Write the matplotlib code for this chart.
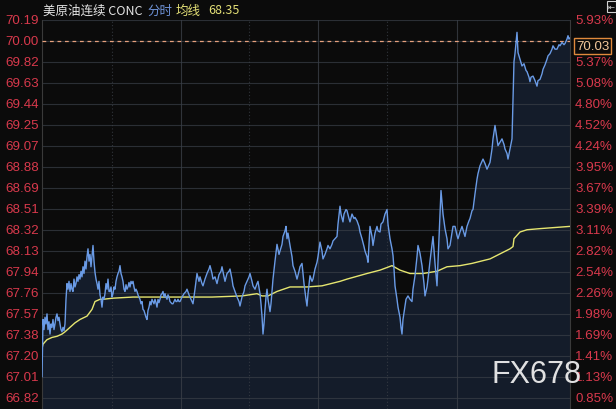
import numpy as np
import matplotlib.pyplot as plt
from matplotlib.patches import Rectangle

# minute index (0 = session start) and last price
minutes = [0, 1, 2, 3, 4, 5, 6, 7, 8, 9, 10, 11, 12, 13, 14, 15, 16, 17, 18, 19,
           20, 21, 22, 23, 24, 25, 26, 27, 28, 29, 30, 31, 32, 33, 34, 35, 36, 37, 38, 39,
           40, 41, 42, 43, 44, 45, 46, 47, 48, 49, 50, 51, 52, 53, 54, 55, 56, 57, 58, 59,
           60, 61, 62, 63, 64, 65, 66, 67, 68, 69, 70, 71, 72, 73, 74, 75, 76, 77, 78, 79,
           80, 81, 82, 83, 84, 85, 86, 87, 88, 89, 90, 91, 92, 93, 94, 95, 96, 97, 98, 99,
           100, 101, 102, 103, 104, 105, 106, 107, 108, 109, 110, 111, 112, 113, 114, 115,
           116, 117, 118, 119, 120, 121, 122, 123, 124, 125, 126, 127, 128, 129, 130, 131,
           132, 133, 134, 135, 136, 137, 138,
           140, 142, 144, 145, 147, 149, 151, 153, 155, 157, 158, 160, 161, 163, 165, 167,
           168, 170, 171, 173, 175, 177, 179, 180, 182, 183, 185, 187, 188, 190, 191, 193,
           195, 197, 198, 200, 202, 203, 205, 207, 208, 210, 211, 213, 215, 216, 218, 219,
           220, 221, 222, 223, 224, 225, 226, 228, 229, 230, 231, 233, 235, 237, 238, 240,
           241, 243, 244, 245, 246, 248, 250, 251, 253, 255, 257, 258, 260, 262, 264, 265,
           266, 268, 270, 271, 273, 275, 276, 278, 280, 281, 283, 285, 286, 288, 290, 291,
           293, 295, 296, 298, 299, 301, 302, 304, 305, 307, 308, 310, 312, 313, 315, 317,
           318, 320, 322, 323, 325, 326, 327, 328, 330, 331, 333, 335, 336, 338, 339, 341,
           343, 345, 346, 348, 350, 351, 352, 353, 355, 356, 358, 359, 360, 361, 363, 364,
           366, 368, 370, 371, 373, 375, 376, 378, 380, 382, 383, 385, 386, 388, 390, 391,
           393, 395, 397, 399, 401, 403, 405, 406, 408, 410, 411, 413, 415, 416, 418, 420,
           422, 423, 425, 427, 428, 430, 431, 433, 435, 436, 438, 440, 441, 443, 445, 447,
           448, 450, 451, 452, 453, 455, 456, 458, 460, 462, 463, 465, 466, 468, 469, 470,
           471, 472, 473, 474, 475, 476, 478, 480, 482, 484, 485, 487, 488, 489, 491, 493,
           495, 496, 498, 500, 501, 503, 505, 506, 508, 510, 511, 513, 515, 517, 518, 520,
           522, 523, 525, 526, 527, 528]
price = [67.01, 67.52, 67.43, 67.54, 67.48, 67.57, 67.43, 67.50, 67.39, 67.48, 67.45, 67.52,
         67.43, 67.48, 67.54, 67.57, 67.51, 67.54, 67.48, 67.43, 67.41, 67.45, 67.42, 67.48,
         67.70, 67.84, 67.79, 67.86, 67.77, 67.84, 67.79, 67.77, 67.88, 67.81, 67.84, 67.90,
         67.86, 67.92, 67.88, 67.95, 67.90, 67.99, 67.93, 68.04, 67.97, 68.08, 68.15, 68.04,
         68.10, 67.99, 68.08, 68.18, 68.04, 67.94, 67.88, 67.84, 67.79, 67.86, 67.74, 67.70,
         67.63, 67.72, 67.70, 67.75, 67.84, 67.79, 67.88, 67.77, 67.77, 67.81, 67.72, 67.75,
         67.81, 67.79, 67.86, 67.90, 67.93, 67.95, 68.00, 67.93, 67.90, 67.86, 67.79, 67.77,
         67.83, 67.79, 67.81, 67.85, 67.81, 67.86, 67.84, 67.86, 67.81, 67.77, 67.79, 67.77,
         67.74, 67.72, 67.70, 67.66, 67.68, 67.61, 67.60, 67.57, 67.54, 67.52, 67.60, 67.63,
         67.68, 67.65, 67.70, 67.68, 67.66, 67.70, 67.67, 67.63, 67.70, 67.67, 67.70, 67.74,
         67.75, 67.77, 67.72, 67.75, 67.72, 67.70, 67.74, 67.72, 67.68, 67.67, 67.66, 67.66,
         67.68, 67.70, 67.68, 67.68, 67.70, 67.68, 67.68,
         67.72, 67.75, 67.77, 67.79, 67.74, 67.70, 67.66, 67.79, 67.93, 67.86, 67.90, 67.84,
         67.82, 67.88, 67.93, 67.97, 68.00, 67.93, 67.88, 67.90, 67.84, 67.92, 67.95, 67.99,
         67.90, 67.86, 67.93, 67.95, 67.97, 67.88, 67.82, 67.77, 67.72, 67.68, 67.64, 67.72,
         67.77, 67.82, 67.86, 67.90, 67.93, 67.86, 67.82, 67.79, 67.84, 67.86, 67.75, 67.66,
         67.55, 67.39, 67.48, 67.61, 67.72, 67.79, 67.70, 67.59, 67.66, 67.77, 67.88, 68.04,
         68.19, 68.10, 68.13, 68.19, 68.26, 68.31, 68.35, 68.24, 68.29, 68.18, 68.08, 68.00,
         67.95, 67.88, 67.95, 67.99, 68.02, 67.84, 67.70, 67.64, 67.75, 67.91, 67.86, 67.88,
         67.97, 68.03, 68.08, 68.21, 68.13, 68.06, 68.10, 68.15, 68.18, 68.15, 68.19, 68.22,
         68.24, 68.26, 68.37, 68.53, 68.46, 68.39, 68.46, 68.50, 68.49, 68.42, 68.39, 68.46,
         68.42, 68.43, 68.40, 68.35, 68.30, 68.24, 68.17, 68.13, 68.08, 68.03, 68.19, 68.35,
         68.26, 68.18, 68.29, 68.35, 68.31, 68.30, 68.37, 68.39, 68.46, 68.50, 68.37, 68.24,
         68.15, 68.09, 67.97, 67.82, 67.70, 67.63, 67.54, 67.45, 67.39, 67.52, 67.64, 67.70,
         67.73, 67.70, 67.68, 67.79, 67.91, 68.08, 68.18, 68.11, 68.00, 67.84, 67.73, 67.81,
         67.88, 68.04, 68.19, 68.26, 68.02, 67.82, 68.24, 68.67, 68.46, 68.33, 68.24, 68.15,
         68.18, 68.29, 68.35, 68.35, 68.27, 68.24, 68.30, 68.35, 68.29, 68.26, 68.35, 68.40,
         68.42, 68.49, 68.50, 68.64, 68.77, 68.82, 68.89, 68.93, 68.95, 68.91, 68.86, 68.90,
         68.92, 69.04, 69.13, 69.19, 69.25, 69.13, 69.07, 69.10, 69.13, 69.08, 69.04, 69.00,
         68.95, 69.04, 69.08, 69.13, 69.49, 69.82, 69.89, 69.98, 70.08, 69.90, 69.84, 69.78,
         69.80, 69.74, 69.73, 69.68, 69.64, 69.68, 69.69, 69.65, 69.60, 69.65, 69.66, 69.71,
         69.75, 69.79, 69.84, 69.87, 69.89, 69.93, 69.96, 69.93, 69.93, 69.97, 69.96, 69.99,
         69.97, 69.98, 70.02, 70.05, 70.02, 70.03]

# average price line (均线)
avg_minutes = [0, 1, 5, 10, 15, 20, 23, 28, 33, 38, 45, 50, 53, 58, 61, 71, 91, 115, 138,
               170, 200, 215, 220, 226, 235, 248, 265, 280, 298, 305, 325, 338, 350, 358,
               368, 381, 395, 405, 418, 430, 448, 468, 471, 472, 478, 485, 498, 528]
avg_price = [67.26, 67.30, 67.34, 67.36, 67.37, 67.39, 67.41, 67.45, 67.49, 67.52, 67.55,
             67.61, 67.68, 67.70, 67.70, 67.71, 67.72, 67.72, 67.72, 67.72, 67.73, 67.75,
             67.73, 67.73, 67.77, 67.81, 67.81, 67.82, 67.86, 67.88, 67.93, 67.96, 68.00,
             67.96, 67.93, 67.93, 67.95, 67.99, 68.00, 68.02, 68.06, 68.15, 68.17, 68.24,
             68.30, 68.32, 68.33, 68.35]

price_ticks = ['70.19', '70.00', '69.82', '69.63', '69.44', '69.25', '69.07', '68.88',
               '68.69', '68.51', '68.32', '68.13', '67.94', '67.76', '67.57', '67.38',
               '67.20', '67.01', '66.82']
pct_ticks = ['5.93%', '5.65%', '5.37%', '5.08%', '4.80%', '4.52%', '4.24%', '3.95%',
             '3.67%', '3.39%', '3.11%', '2.82%', '2.54%', '2.26%', '1.98%', '1.69%',
             '1.41%', '1.13%', '0.85%']
ref_price = 70.00
last_price = '70.03'
avg_last = '68.35'

BG = '#0b0b0b'
RED = '#d8394c'
NUM_FONT = ['Liberation Sans', 'DejaVu Sans']
CJK_FONT = ['Noto Sans CJK SC', 'DejaVu Sans']

W, H = 616, 410
fig = plt.figure(figsize=(W / 100, H / 100), dpi=100, facecolor=BG)
# plot area: x 42..570 px, y 21..410 px
ax = fig.add_axes([42 / W, 0, 528 / W, 389 / H])
ax.set_facecolor(BG)

tick_vals = np.linspace(float(price_ticks[0]), float(price_ticks[-1]), len(price_ticks))
step = tick_vals[0] - tick_vals[1]
ax.set_xlim(0, 528)
ax.set_ylim(tick_vals[0] - step * 389 / 21.0, tick_vals[0])

ax.fill_between(minutes, price, ax.get_ylim()[0], color='#141c2a', zorder=1, linewidth=0)

for v in tick_vals:
    ax.axhline(v, color='#3a3f47', lw=0.8, alpha=0.7, zorder=2)
for gx, solid in [(70, False), (139, True), (207, False), (276, True), (345, False), (415, True)]:
    ax.axvline(gx, color='#3a3f47', lw=0.8, alpha=0.8, zorder=2,
               linestyle='-' if solid else (0, (1, 2)))

ax.axhline(ref_price, color='#e8a27e', lw=0.9, linestyle=(0, (3, 3)), zorder=3)
ax.plot(minutes, price, color='#6a9be6', lw=1.0, zorder=5)
ax.plot(avg_minutes, avg_price, color='#e6e670', lw=1.0, zorder=4)

ax.set_xticks([])
ax.set_yticks([])
for side in ['top', 'bottom']:
    ax.spines[side].set_visible(False)
for side in ['left', 'right']:
    ax.spines[side].set_color('#3a3a3a')
    ax.spines[side].set_linewidth(0.8)

# tick labels on both sides
for v, lab, pct in zip(tick_vals, price_ticks, pct_ticks):
    ax.text(-3, v, lab, color=RED, fontsize=9.6, family=NUM_FONT,
            ha='right', va='center', clip_on=False)
    if pct != '5.65%':
        ax.text(533, v, pct, color=RED, fontsize=9.6, family=NUM_FONT,
                ha='left', va='center', clip_on=False)

# last price box on right axis
ax.text(534, ref_price - 0.04, last_price, color='#f2c79a', fontsize=9.6, family=NUM_FONT,
        ha='left', va='center', clip_on=False,
        bbox=dict(boxstyle='square,pad=0.15', fc=BG, ec='#e08a3c', lw=1.0))

# header
ty = 1 - 11 / H
fig.text(43 / W, ty, '美原油连续 CONC', color='#e6e6e6', fontsize=9, family=CJK_FONT, va='center')
fig.text(147 / W, ty, '分时', color='#6f93d8', fontsize=9, family=CJK_FONT, va='center')
fig.text(176 / W, ty, '均线', color='#e3df76', fontsize=9, family=CJK_FONT, va='center')
fig.text(208 / W, ty, avg_last, color='#e3df76', fontsize=9, family=CJK_FONT, va='center')

# small toolbar icon in the top-right corner
fig.patches.append(Rectangle((607 / W, 1 - 13 / H), 9 / W, 11 / H, transform=fig.transFigure,
                             fill=False, ec='#d0d0d0', lw=0.8))
fig.text(611.5 / W, 1 - 7.5 / H, '⇤', color='#d0d0d0', fontsize=6, ha='center', va='center')

# watermark
fig.text(536 / W, 1 - 375 / H, 'FX678', color='#ececec', fontsize=22, family=NUM_FONT,
         ha='center', va='center', alpha=0.95)

fig.savefig('out.png', dpi=100, facecolor=BG)
